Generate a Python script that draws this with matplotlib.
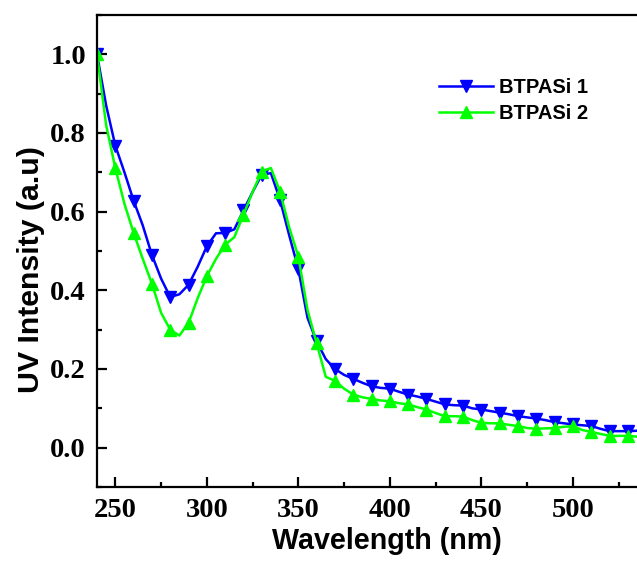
import matplotlib
matplotlib.use("Agg")
import matplotlib.pyplot as plt
from matplotlib.ticker import MultipleLocator, FormatStrFormatter

wavelength = list(range(240, 540, 5))
btpasi1 = [1.00, 0.87, 0.768, 0.70, 0.628, 0.565, 0.49, 0.43, 0.383, 0.39,
           0.414, 0.46, 0.512, 0.545, 0.546, 0.555, 0.603, 0.65, 0.694, 0.698,
           0.63, 0.54, 0.454, 0.33, 0.27, 0.225, 0.20, 0.185, 0.175, 0.165,
           0.156, 0.152, 0.15, 0.142, 0.135, 0.13, 0.124, 0.117, 0.11, 0.108,
           0.107, 0.10, 0.097, 0.093, 0.089, 0.085, 0.08, 0.077, 0.074, 0.07,
           0.065, 0.062, 0.059, 0.057, 0.055, 0.048, 0.042, 0.042, 0.042, 0.043]
btpasi2 = [1.00, 0.82, 0.711, 0.62, 0.546, 0.48, 0.417, 0.343, 0.30, 0.285,
           0.317, 0.38, 0.436, 0.48, 0.516, 0.535, 0.592, 0.65, 0.702, 0.711,
           0.651, 0.56, 0.486, 0.35, 0.265, 0.18, 0.17, 0.15, 0.135, 0.128,
           0.124, 0.12, 0.118, 0.113, 0.11, 0.103, 0.097, 0.088, 0.08, 0.08,
           0.079, 0.07, 0.063, 0.062, 0.062, 0.058, 0.055, 0.05, 0.048, 0.049,
           0.05, 0.053, 0.055, 0.045, 0.04, 0.035, 0.03, 0.03, 0.03, 0.028]
labels = ["BTPASi 1", "BTPASi 2"]

W, H = 637, 565
fig = plt.figure(figsize=(W / 100, H / 100), dpi=100)
ax = fig.add_axes([97 / W, (H - 487) / H, (W - 97) / W, (487 - 15) / H])

ax.plot(wavelength, btpasi1, color="#0000ff", lw=1.8, marker="v", ms=9,
        markevery=2, label=labels[0])
ax.plot(wavelength, btpasi2, color="#00ff00", lw=1.8, marker="^", ms=9,
        markevery=2, label=labels[1])

ax.set_xlim(240, 535)
ax.set_ylim(-0.1, 1.1)
ax.xaxis.set_major_locator(MultipleLocator(50))
ax.xaxis.set_minor_locator(MultipleLocator(25))
ax.yaxis.set_major_locator(MultipleLocator(0.2))
ax.yaxis.set_minor_locator(MultipleLocator(0.1))
ax.yaxis.set_major_formatter(FormatStrFormatter("%.1f"))
ax.spines["right"].set_visible(False)
for s in ax.spines.values():
    s.set_linewidth(1.6)
ax.tick_params(which="major", direction="in", length=7, width=1.6, pad=8)
ax.tick_params(which="minor", direction="in", length=3.5, width=1.6)
ax.tick_params(right=False, top=False, which="both")

serif = ["Liberation Serif", "DejaVu Serif"]
for lab in ax.get_xticklabels() + ax.get_yticklabels():
    lab.set_fontfamily(serif)
    lab.set_fontweight("bold")
    lab.set_fontsize(20.5)

sans = ["Liberation Sans", "DejaVu Sans"]
ax.set_xlabel("Wavelength (nm)", fontfamily=sans, fontweight="bold", fontsize=20.6)
ax.set_ylabel("UV Intensity (a.u)", fontfamily=sans, fontweight="bold", fontsize=21.8)
ax.xaxis.set_label_coords((387 - 97) / 540, -0.085)
ax.yaxis.set_label_coords((45 - 97) / 540, (487 - 270) / 472)

leg = ax.legend(loc="upper left", bbox_to_anchor=(429 / W, 1 - 68 / H),
                bbox_transform=fig.transFigure, frameon=False, borderpad=0,
                handlelength=2.7, handletextpad=0.3, labelspacing=0.35,
                prop={"family": sans, "weight": "bold", "size": 14.5})

fig.savefig("out.png", dpi=100)
